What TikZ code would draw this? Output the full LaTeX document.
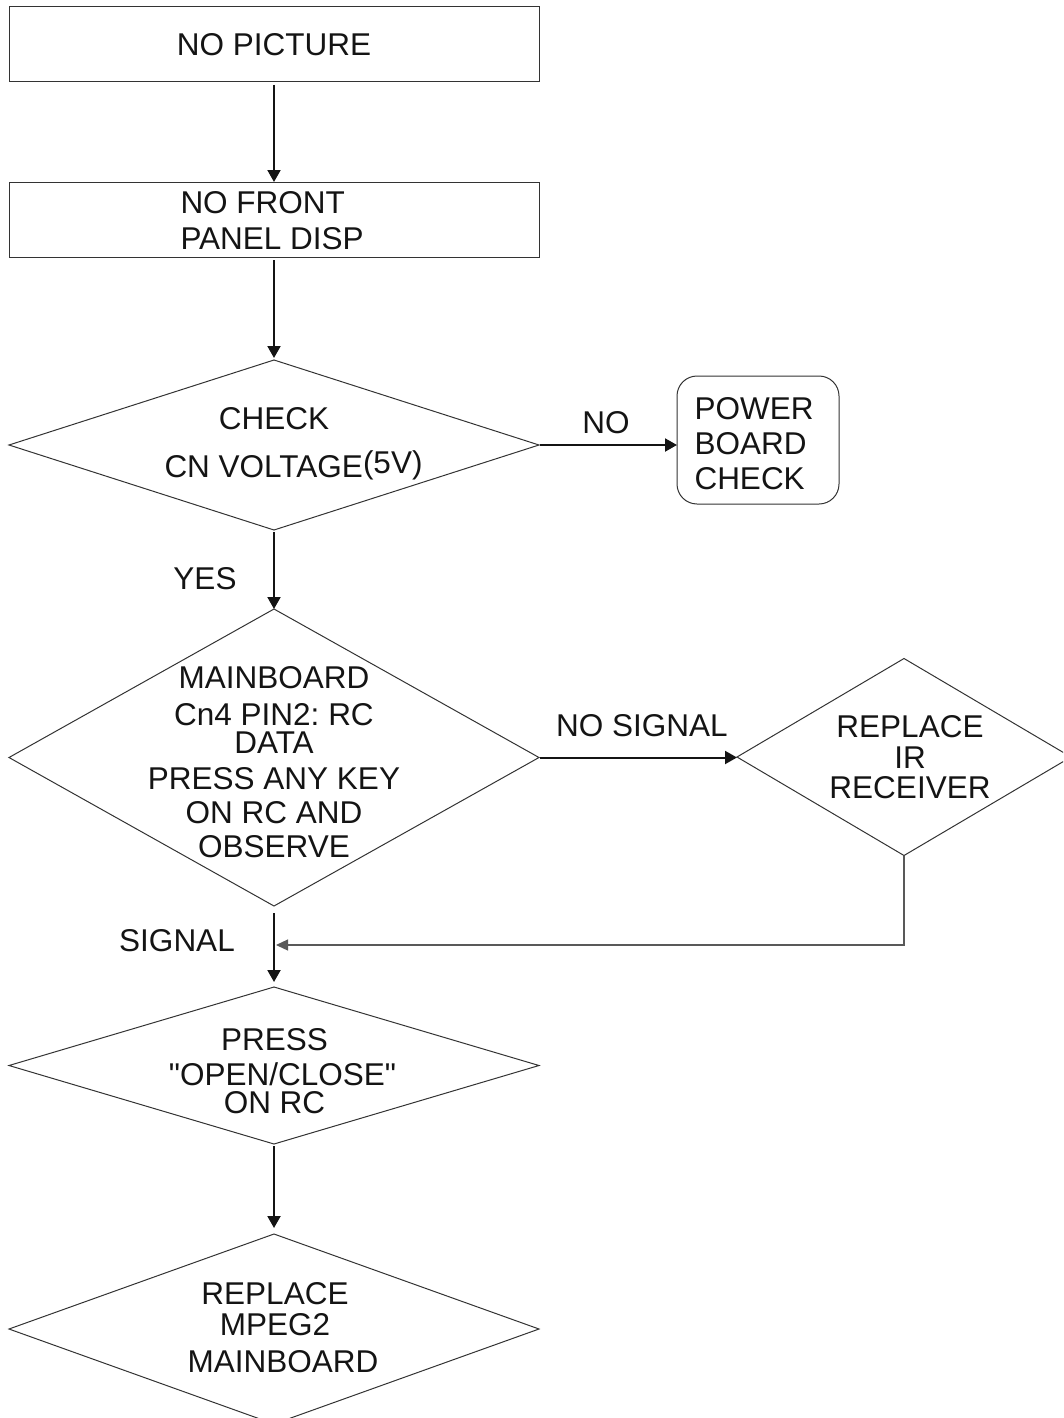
\documentclass[tikz,border=0pt]{standalone}
\usepackage{fontspec}
\setmainfont{Liberation Sans}
\usetikzlibrary{shapes.geometric,arrows.meta}
\frenchspacing
\begin{document}
\begin{tikzpicture}[x=1pt,y=-1pt,
  txt/.style={font=\fontsize{31.5}{35}\selectfont, inner sep=0pt, outer sep=0pt, text=black!92},
  boxnode/.style={draw=black!80, line width=1pt, minimum width=530pt, minimum height=75pt, inner sep=0pt, outer sep=0pt, font=\fontsize{31.5}{35}\selectfont, text=black!92},
  dia/.style={draw=black!80, line width=1pt, shape=diamond, inner sep=0pt, outer sep=0pt},
  flow/.style={line width=2pt, draw=black!92, -{Triangle[length=12pt,width=13pt]}},
  back/.style={line width=1.2pt, draw=black!65, -{Triangle[length=12pt,width=11pt]}}
]
\useasboundingbox (0,0) rectangle (1063,1418);
\clip (0,0) rectangle (1063,1418);

% shapes
\node[boxnode] (b1) at (274,44.5) {NO PICTURE};
\node[boxnode] (b2) at (274,219.5) {};
\node[dia, minimum width=530pt, minimum height=170pt] (d1) at (274,445) {};
\node[draw=black!80, line width=1pt, rounded corners=20pt, minimum width=162pt, minimum height=128pt, inner sep=0pt, outer sep=0pt] (pw) at (758,440) {};
\node[dia, minimum width=530pt, minimum height=297pt] (d2) at (274,757.5) {};
\node[dia, minimum width=334pt, minimum height=197pt] (d3) at (904,757) {};
\node[dia, minimum width=530pt, minimum height=157pt] (d4) at (274,1065.5) {};
\node[dia, minimum width=530pt, minimum height=190pt] (d5) at (274,1329) {};

% texts
\node[txt, align=left, anchor=west] (t2) at (180.5,220.5) {NO FRONT\\[1pt]PANEL DISP};
\node[txt, anchor=base] (d1a) at (274,429) {CHECK};
\node[txt, anchor=base west] (d1b) at (164.5,477) {CN VOLTAGE};
\node[txt, anchor=base west] (d1c) at (363,473.5) {(5V)};
\node[txt, align=left, anchor=west] (pt) at (694.5,444) {POWER\\BOARD\\CHECK};
\node[txt, align=center] (d2t) at (274,762) {MAINBOARD\\[2.5pt]Cn4 PIN2: RC\hspace*{8pt}\\[-7.5pt]DATA\\[1.5pt]PRESS ANY KEY\\[-1.5pt]ON RC AND\\[-0.5pt]OBSERVE};
\node[txt, align=center] (d3t) at (910,757.5) {REPLACE\\[-4.5pt]IR\\[-4.5pt]RECEIVER};
\node[txt, align=center] (d4t) at (274.5,1071) {PRESS\\{}\hspace*{16pt}\textquotedbl OPEN/CLOSE\textquotedbl\\[-7pt]ON RC};
\node[txt, align=center] (d5t) at (275,1327.5) {REPLACE\\[-4pt]MPEG2\\[2pt]{}\hspace*{16pt}MAINBOARD};

% labels
\node[txt, anchor=base] (lno) at (606,433) {NO};
\node[txt, anchor=base] (lyes) at (205,589) {YES};
\node[txt, anchor=base] (lnosig) at (642,736) {NO SIGNAL};
\node[txt, anchor=base] (lsig) at (177,951) {SIGNAL};

% connectors
\coordinate (j) at (274,945);
\draw[flow, shorten <=3pt] (b1.south) -- (b2.north);
\draw[flow, shorten <=3pt, shorten >=2pt] (b2.south) -- (d1.north);
\draw[flow, shorten <=2pt] (d1.south) -- (d2.north);
\draw[flow, shorten <=1pt] (d1.east) -- (d1.east -| pw.west);
\draw[flow, shorten <=1pt] (d2.east) -- (d2.east -| d3.west);
\draw[flow, shorten <=7pt, shorten >=5pt] (d2.south) -- (d4.north);
\draw[back, shorten >=2pt] (d3.south) |- (j);
\draw[flow, shorten <=2pt, shorten >=6pt] (d4.south) -- (d5.north);
\end{tikzpicture}
\end{document}
